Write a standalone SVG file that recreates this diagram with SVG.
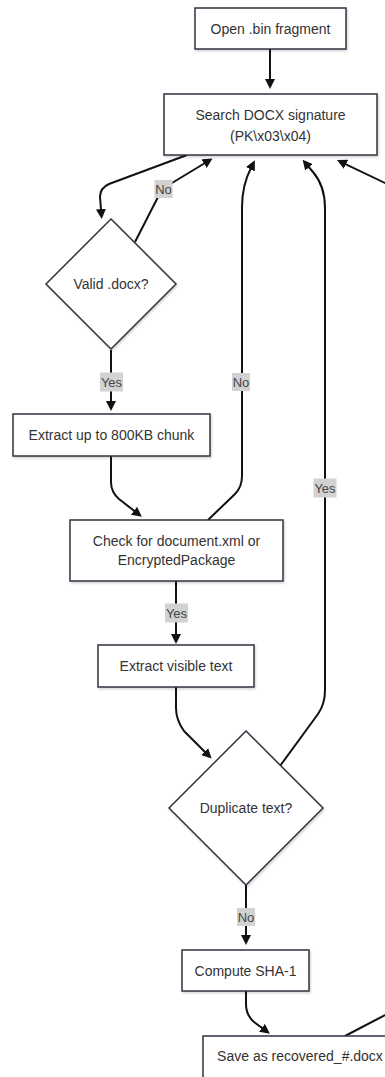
<svg xmlns="http://www.w3.org/2000/svg" width="385" height="1077" viewBox="0 0 385 1077">
<style>
.node rect,.node polygon{fill:#ffffff;stroke:#333340;stroke-width:1.5;filter:url(#sh)}
.node text{font-family:"Liberation Sans",Arial,sans-serif;font-size:14px;fill:#333;text-anchor:middle;dominant-baseline:central}
.edge{fill:none;stroke:#111;stroke-width:2;marker-end:url(#arr)}
.lbl rect{fill:#d2d2d2}
.lbl text{font-family:"Liberation Sans",Arial,sans-serif;font-size:13px;fill:#444;text-anchor:middle;dominant-baseline:central}
</style>
<defs>
<marker id="arr" markerUnits="userSpaceOnUse" viewBox="0 0 10 10" markerWidth="10" markerHeight="10" refX="7" refY="5" orient="auto">
<path d="M0,0 L10,5 L0,10 z" fill="#111"/>
</marker>
<filter id="sh" x="-10%" y="-10%" width="130%" height="130%">
<feDropShadow dx="1" dy="1.5" stdDeviation="1" flood-color="#000" flood-opacity="0.18"/>
</filter>
</defs>
<rect width="385" height="1077" fill="#ffffff"/>
<g id="connectors">
<path class="edge" d="M270,49 L270,86"/>
<path class="edge" d="M187,155 L109,184 Q100,188 100,197 L101.5,216"/>
<path class="edge" d="M135,242 L158,197 Q163,188 172,183 L210,160"/>
<path class="edge" d="M111,350 L111,408"/>
<path class="edge" d="M111,456 L111,482 Q111,492 119,499 L139.5,515"/>
<path class="edge" d="M208,520 L235,494 Q242,487 242,476 L242,208 Q242,185 251,168 L253.5,163"/>
<path class="edge" d="M280,766 L318,714 Q325,704 325,690 L325,208 Q325,186 313,172 L304.5,162"/>
<path class="edge" d="M176,581 L176,641"/>
<path class="edge" d="M176,687 L176,708 Q176,720 184,731 L209.5,756.5"/>
<path class="edge" d="M246,885 L246,942"/>
<path class="edge" d="M246,991 L246,1004 Q246,1015 254,1022 L267.5,1032"/>
<path class="edge" d="M345,1036 L410,1002 L410,195 L339.7,161.3"/>
</g>
<g id="edge-labels">
<g class="lbl"><rect x="154.5" y="180" width="18" height="18"/><text x="163.5" y="189">No</text></g>
<g class="lbl"><rect x="100" y="372.5" width="23" height="19"/><text x="111.5" y="382">Yes</text></g>
<g class="lbl"><rect x="232" y="373" width="18" height="18"/><text x="241" y="382">No</text></g>
<g class="lbl"><rect x="313.5" y="478.5" width="23" height="19"/><text x="325" y="488">Yes</text></g>
<g class="lbl"><rect x="165" y="603.5" width="23" height="19"/><text x="176.5" y="613">Yes</text></g>
<g class="lbl"><rect x="237" y="908" width="18" height="18"/><text x="246" y="917">No</text></g>
</g>
<g id="n-open" class="node"><rect x="195" y="8" width="151" height="41"/><text x="270.5" y="28.5">Open .bin fragment</text></g>
<g id="n-search" class="node"><rect x="164" y="94" width="213" height="61"/><text x="270.5" y="114.5">Search DOCX signature</text><text x="270.5" y="135.5">(PK\x03\x04)</text></g>
<g id="n-valid" class="node"><polygon points="111,219 176,284 111,349 46,284"/><text x="111" y="284">Valid .docx?</text></g>
<g id="n-extract" class="node"><rect x="13" y="414" width="197" height="42"/><text x="111.5" y="435">Extract up to 800KB chunk</text></g>
<g id="n-check" class="node"><rect x="70" y="520" width="213" height="61"/><text x="176.5" y="540.5">Check for document.xml or</text><text x="176.5" y="560">EncryptedPackage</text></g>
<g id="n-text" class="node"><rect x="98" y="645" width="156" height="42"/><text x="176" y="666">Extract visible text</text></g>
<g id="n-dup" class="node"><polygon points="246,731 323,808 246,885 169,808"/><text x="246" y="808">Duplicate text?</text></g>
<g id="n-sha" class="node"><rect x="182" y="950" width="127" height="41"/><text x="245.5" y="970.5">Compute SHA-1</text></g>
<g id="n-save" class="node"><rect x="203" y="1036" width="194" height="44"/><text x="300" y="1056">Save as recovered_#.docx</text></g>
</svg>
